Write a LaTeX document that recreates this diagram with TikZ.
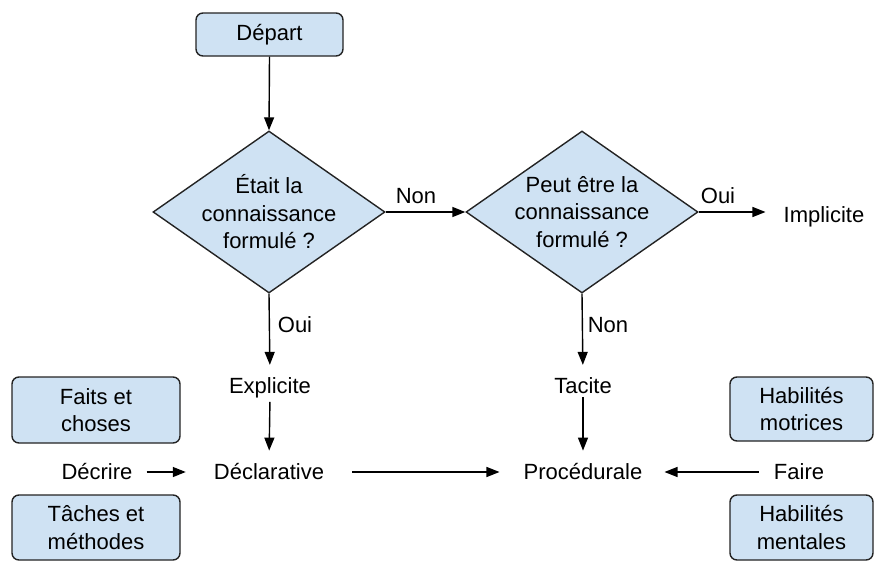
\documentclass[tikz,border=0pt]{standalone}
\usepackage{fontspec}
\setmainfont{Liberation Sans}
\usetikzlibrary{shapes.geometric,arrows.meta}
\definecolor{boxfill}{RGB}{207,226,243}
\definecolor{edgecol}{RGB}{35,35,35}
\begin{document}
\begin{tikzpicture}[x=1pt,y=-1pt,
  every node/.style={font=\fontsize{22}{27.5}\selectfont, text=black},
  box/.style={draw=edgecol, line width=1.4pt, fill=boxfill, rounded corners=7pt, align=center, inner sep=0pt},
  dia/.style={draw=edgecol, line width=1.4pt, fill=boxfill, diamond, inner sep=0pt, minimum width=232pt, minimum height=162pt},
  txt/.style={inner sep=0pt, align=center},
  arr/.style={draw=black, line width=1.4pt, -{Triangle[length=13pt,width=10pt]}}
]
\useasboundingbox (0,0) rectangle (876,562);

% boxes
\node[box, minimum width=147pt, minimum height=43pt] (dep) at (269.5,34.5) {Départ};
\node[box, minimum width=168pt, minimum height=66pt] (faits) at (96,410) {Faits et\\choses};
\node[box, minimum width=168pt, minimum height=65pt] (taches) at (96,527.5) {Tâches et\\méthodes};
\node[box, minimum width=143pt, minimum height=64pt] (motr) at (801.5,409) {Habilités\\motrices};
\node[box, minimum width=143pt, minimum height=65pt] (ment) at (801.5,527.5) {Habilités\\mentales};

% diamonds
\node[dia] (d1) at (269,212) {};
\node[txt] (d1t) at (d1) {Était la\\connaissance\\formulé ?};
\node[dia] (d2) at (582,212) {};
\node[txt] (d2t) at (d2) {Peut être la\\connaissance\\formulé ?};

% text nodes
\node[txt, anchor=base] (impl) at (824,222) {Implicite};
\node[txt, anchor=base] (expl) at (270,393) {Explicite};
\node[txt, anchor=base] (tac) at (583,393) {Tacite};
\node[txt, anchor=base] (decl) at (269,479) {Déclarative};
\node[txt, anchor=base] (proc) at (583,479) {Procédurale};
\node[txt, anchor=base] (decr) at (97,479) {Décrire};
\node[txt, anchor=base] (faire) at (799,479) {Faire};

% labels
\node[txt, anchor=base] (lnon1) at (416,203) {Non};
\node[txt, anchor=base] (loui1) at (718,203) {Oui};
\node[txt, anchor=base] (loui2) at (295,332) {Oui};
\node[txt, anchor=base] (lnon2) at (608,332) {Non};

% connectors
\draw[arr] (dep.south) -- (d1.north);
\draw[arr] (d1.east) -- (d2.west);
\draw[arr, shorten >=18pt] (d2.east) -- (d2.east -| impl.west);
\draw[arr, shorten >=12pt] (d1.south) -- (expl.north);
\draw[arr, shorten >=12pt] (d2.south) -- (tac.north);
\draw[arr, shorten <=4pt, shorten >=12pt] (expl.south) -- (decl.north);
\draw[arr, shorten <=4pt, shorten >=12pt] (tac.south) -- (proc.north);
\draw[arr, shorten <=14pt, shorten >=28pt] ([yshift=7pt]decr.base east) -- ([yshift=7pt]decl.base west);
\draw[arr, shorten <=28pt, shorten >=24pt] ([yshift=7pt]decl.base east) -- ([yshift=7pt]proc.base west);
\draw[arr, shorten <=15pt, shorten >=22pt] ([yshift=7pt]faire.base west) -- ([yshift=7pt]proc.base east);
\end{tikzpicture}
\end{document}
